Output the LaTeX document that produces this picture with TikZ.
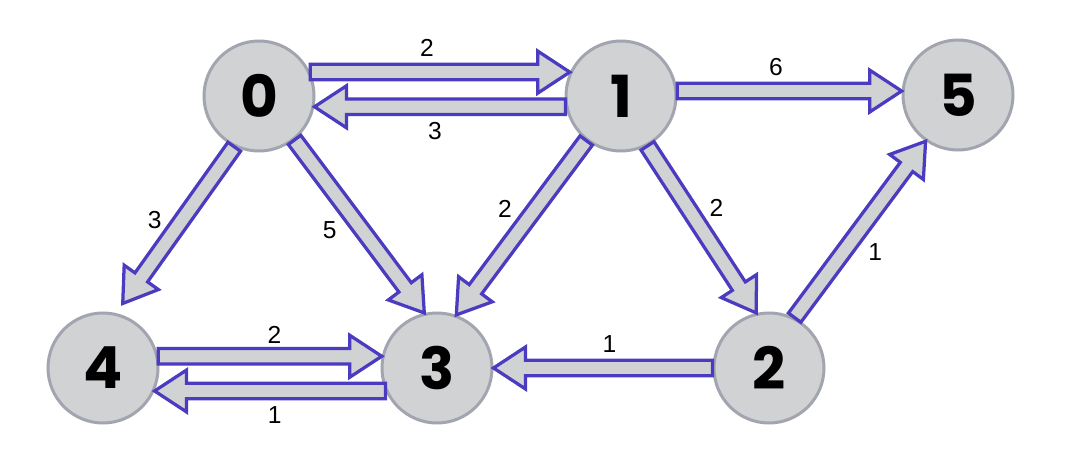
\documentclass[tikz,border=0pt]{standalone}
\usepackage{fontspec}
\setmainfont{Liberation Sans}
\newfontfamily\numfont{Poppins}
\usepackage{tikz}
\usetikzlibrary{calc}
\definecolor{vfill}{HTML}{D1D2D4}
\definecolor{vline}{HTML}{A2A4AF}
\definecolor{edgec}{HTML}{4B3BC0}
\tikzset{
  vtx/.style={circle,draw=vline,line width=0.6mm,fill=vfill,minimum size=22mm,inner sep=0pt,
    font=\numfont\bfseries\fontsize{33}{35}\selectfont},
  fatarr/.style={draw=edgec,line width=0.65mm,fill=vfill,line join=miter},
  wlbl/.style={inner sep=0pt,font=\fontsize{14}{16}\selectfont}
}
% hollow block arrow: from, to, weight, pos, label side
\newcommand{\fatedge}[5]{%
  \draw[fatarr] ($(#1)!1.55mm!90:(#2)$)
    -- ($(#2)!6.4mm!(#1)!1.55mm!90:(#2)$)
    -- ($(#2)!6.4mm!(#1)!4.2mm!90:(#2)$)
    -- (#2)
    -- ($(#2)!6.4mm!(#1)!4.2mm!-90:(#2)$)
    -- ($(#2)!6.4mm!(#1)!1.55mm!-90:(#2)$)
    -- ($(#1)!1.55mm!-90:(#2)$) -- cycle;
  \path (#1) -- (#2) node[wlbl,pos=#4,#5] {#3};
}

\begin{document}
\begin{tikzpicture}[x=0.2mm,y=-0.2mm]
\useasboundingbox (0,0) rectangle (1076,474);
% vertices
\node[vtx] (n0) at (259,96) {0};
\node[vtx] (n1) at (621,96) {1};
\node[vtx] (n5) at (958,95) {5};
\node[vtx] (n4) at (103,368) {4};
\node[vtx] (n3) at (437,368) {3};
\node[vtx] (n2) at (769,368) {2};
\coordinate (t04) at ($(n4.73)+(73:2.2mm)$);
% weighted edges
\fatedge{n0.25}{n1.155}{2}{0.45}{above=3mm}
\fatedge{n1.191}{n0.-11}{3}{0.52}{below=3mm}
\fatedge{n1.5}{n5.176}{6}{0.44}{above=3mm}
\fatedge{n4.12}{n3.168}{2}{0.52}{above=2.5mm}
\fatedge{n3.204}{n4.-24}{1}{0.48}{below=3mm}
\fatedge{n2.180}{n3.0}{1}{0.47}{above=3mm}
\fatedge{n0.-116}{t04}{3}{0.47}{left=4mm}
\fatedge{n0.-51}{n3.103}{5}{0.52}{left=5mm}
\fatedge{n1.-128}{n3.70}{2}{0.39}{left=4.7mm}
\fatedge{n1.-62}{n2.103}{2}{0.37}{right=4.3mm}
\fatedge{n2.63}{n5.-125}{1}{0.37}{right=5mm}
\end{tikzpicture}
\end{document}
